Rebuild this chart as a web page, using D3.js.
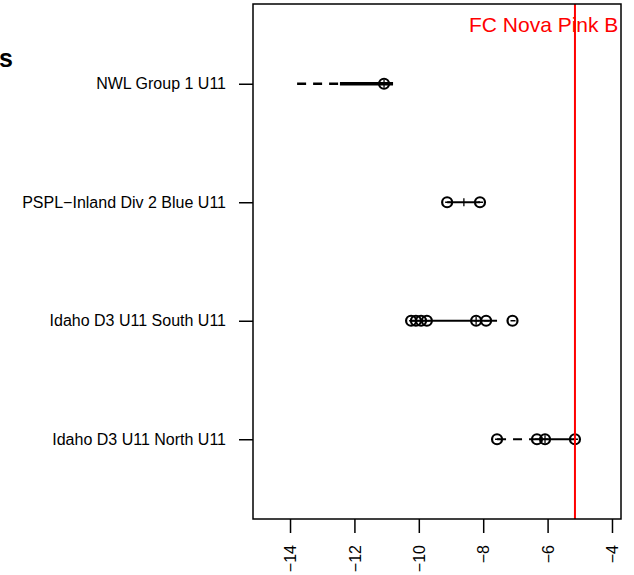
<!DOCTYPE html>
<html>
<head>
<meta charset="utf-8">
<script src="https://cdn.jsdelivr.net/npm/d3@7"></script>
<style>
  body { margin: 0; background: #fff; }
  text { font-family: "Liberation Sans", Arial, sans-serif; }
</style>
</head>
<body>
<svg id="chart" width="634" height="575"></svg>
<script>
// team labels, top to bottom
const teams = ["NWL Group 1 U11", "PSPL\u2212Inland Div 2 Blue U11", "Idaho D3 U11 South U11", "Idaho D3 U11 North U11"];
// observed values per team
const points = [
    [-11.08],
    [-9.12, -8.10],
    [-10.24, -10.09, -9.93, -9.75, -8.22, -7.91, -7.09],
    [-7.57, -6.33, -6.08, -5.15]
];
const dashedRanges = [[-13.78, -12.45], null, null, [-7.57, -6.33]];
const solidRanges = [[-12.45, -10.80], [-9.12, -8.10], [-10.24, -7.57], [-6.33, -5.15]];
const medians = [-11.08, -8.60, -8.22, -6.08];
const xTicks = [-14, -12, -10, -8, -6, -4];
const refValue = -5.15;
const refLabel = "FC Nova Pink B";

const svg = d3.select("#chart");
const box = { left: 253, right: 621, top: 4, bottom: 519 };

const x = d3.scaleLinear().domain([-15.15, -3.72]).range([box.left, box.right]);
const y = d3.scalePoint().domain(teams).range([box.top, box.bottom]).padding(0.673);

// clipped title fragment
svg.append("text")
    .attr("x", -1).attr("y", 67)
    .attr("font-size", 25).attr("font-weight", "bold")
    .text("s");

svg.append("defs").append("clipPath").attr("id", "plotclip")
    .append("rect")
    .attr("x", box.left).attr("y", box.top)
    .attr("width", box.right - box.left).attr("height", box.bottom - box.top);

const plot = svg.append("g").attr("clip-path", "url(#plotclip)");

// dashed ranges
plot.selectAll("line.dash")
    .data(teams.map((t, i) => ({ t, r: dashedRanges[i], i })).filter(d => d.r))
    .join("line")
    .attr("x1", d => x(d.r[0])).attr("x2", d => x(d.r[1]))
    .attr("y1", d => y(d.t)).attr("y2", d => y(d.t))
    .attr("stroke", "#000")
    .attr("stroke-width", d => d.i === 0 ? 2.5 : 2)
    .attr("stroke-dasharray", "9,7");

// solid ranges
plot.selectAll("line.solid")
    .data(teams.map((t, i) => ({ t, r: solidRanges[i], i })))
    .join("line")
    .attr("x1", d => x(d.r[0])).attr("x2", d => x(d.r[1]))
    .attr("y1", d => y(d.t)).attr("y2", d => y(d.t))
    .attr("stroke", "#000")
    .attr("stroke-width", d => d.i === 0 ? 3.5 : 2);

// median ticks
plot.selectAll("line.med")
    .data(teams.map((t, i) => ({ t, v: medians[i] })))
    .join("line")
    .attr("x1", d => x(d.v)).attr("x2", d => x(d.v))
    .attr("y1", d => y(d.t) - 4).attr("y2", d => y(d.t) + 4)
    .attr("stroke", "#000").attr("stroke-width", 1.3);

// points
const pts = teams.flatMap((t, i) => points[i].map(v => ({ t, v })));
const pg = plot.selectAll("g.pt").data(pts).join("g")
    .attr("transform", d => `translate(${x(d.v)},${y(d.t)})`);
pg.append("circle").attr("r", 5)
    .attr("fill", "none").attr("stroke", "#000").attr("stroke-width", 2.2);
pg.append("line").attr("x1", -2).attr("x2", 3)
    .attr("stroke", "#000").attr("stroke-width", 1.5);

// reference line and label
plot.append("line")
    .attr("x1", x(refValue)).attr("x2", x(refValue))
    .attr("y1", box.top).attr("y2", box.bottom)
    .attr("stroke", "#ff0000").attr("stroke-width", 2);
plot.append("text")
    .attr("x", 469).attr("y", 32)
    .attr("font-size", 21).attr("fill", "#ff0000")
    .text(refLabel);

// box
svg.append("rect")
    .attr("x", box.left).attr("y", box.top)
    .attr("width", box.right - box.left).attr("height", box.bottom - box.top)
    .attr("fill", "none").attr("stroke", "#000").attr("stroke-width", 1.5);

// y axis
const yAxis = svg.append("g")
    .attr("transform", `translate(${box.left},0)`)
    .call(d3.axisLeft(y).tickSize(14).tickPadding(13));
yAxis.select(".domain").remove();
yAxis.selectAll("line").attr("stroke-width", 1.5);
yAxis.selectAll("text").attr("font-size", 16).attr("font-family", "Liberation Sans, Arial, sans-serif");

// x axis
const xAxis = svg.append("g")
    .attr("transform", `translate(0,${box.bottom})`)
    .call(d3.axisBottom(x).tickValues(xTicks).tickSize(14).tickFormat(d => d3.format("")(d).replace("-", "\u2212")));
xAxis.select(".domain").remove();
xAxis.selectAll("line").attr("stroke-width", 1.5);
xAxis.selectAll("text")
    .attr("font-size", 16).attr("font-family", "Liberation Sans, Arial, sans-serif")
    .attr("transform", "rotate(-90)")
    .attr("text-anchor", "end")
    .attr("x", -26).attr("y", 0).attr("dy", "0.35em");
</script>
</body>
</html>
